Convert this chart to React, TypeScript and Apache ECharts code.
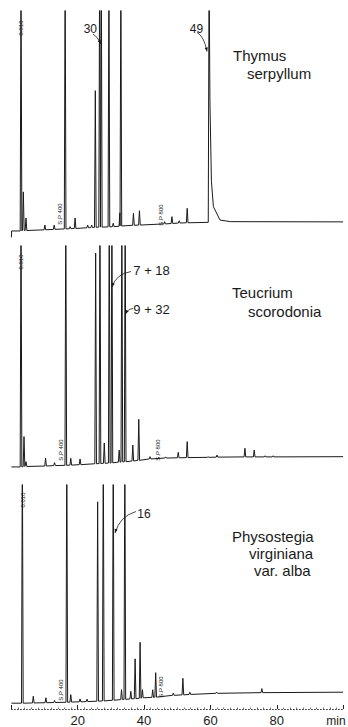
import React, { useEffect, useRef } from "react";
import * as echarts from "echarts";

// Chromatogram peaks: [retention time (min), peak top, foot level, optional right-foot level]
// Signal scale: 0..100 = full panel height; values > 100 are off-scale (clipped).
const thymusPeaks: number[][] = [
  [2.9, 120, 3.1], [3.6, 20.3, 3.4], [4.4, 8.8, 3.3], [10.1, 5.7, 3.6], [12.9, 5.7, 3.8],
  [16.2, 120, 4.0], [17.7, 5.0, 4.1], [19.2, 8.8, 4.2], [23.0, 5.7, 4.5], [24.2, 5.7, 4.6],
  [25.3, 64.9, 4.7], [26.6, 120, 4.8], [27.1, 120, 4.8], [29.4, 120, 4.9], [30.7, 6.5, 5.0],
  [32.7, 11.1, 5.2], [33.0, 120, 5.3], [36.8, 10.9, 5.6], [38.6, 12.0, 5.7], [46.2, 7.2, 6.2],
  [48.4, 9.4, 6.4], [50.6, 7.6, 6.6], [53.0, 13.1, 6.7], [59.6, 120, 6.9, 60],
];
const thymusBaseline: number[][] = [
  [0, 0.3], [0.05, 3.1], [60.3, 25], [60.9, 13.8], [62.9, 7.9], [66, 7.2], [100, 7.1],
];

const teucriumPeaks: number[][] = [
  [2.9, 120, 3.1], [3.8, 16.4, 3.3], [4.4, 5.4, 3.3], [10.3, 6.9, 3.5], [13.0, 5.0, 3.7],
  [16.4, 120, 3.8], [17.9, 6.9, 3.9], [20.7, 6.6, 4.1], [25.4, 96.9, 4.5], [26.7, 120, 4.6],
  [28.0, 13.6, 4.7], [29.5, 120, 4.8], [30.3, 120, 4.9], [32.5, 10.5, 5.2], [33.3, 120, 5.3],
  [34.3, 120, 5.4], [36.6, 12.7, 5.7], [38.4, 24.0, 6.0], [41.8, 7.6, 6.6], [46.5, 7.5, 7.0],
  [50.3, 9.5, 7.1], [53.0, 14.2, 7.2], [59.3, 7.6, 7.3], [62.0, 8.3, 7.4], [70.4, 11.3, 7.5],
  [73.2, 10.5, 7.5], [76.5, 8.0, 7.5], [78.9, 8.0, 7.5],
];
const teucriumBaseline: number[][] = [[0, 3.1], [100, 7.6]];

const physostegiaPeaks: number[][] = [
  [3.3, 120, 2.6], [6.6, 5.7, 2.7], [10.4, 5.0, 2.8], [13.0, 3.8, 2.9], [16.7, 120, 3.0],
  [17.9, 6.4, 3.1], [20.7, 4.5, 3.2], [22.8, 4.4, 3.3], [26.0, 92.5, 3.5], [27.7, 120, 3.6],
  [30.7, 120, 3.9], [33.2, 8.6, 4.2], [34.2, 120, 4.3], [36.0, 7.9, 4.5], [37.3, 22.4, 4.6],
  [38.8, 29.8, 4.8], [39.5, 8.6, 5.0], [42.6, 8.6, 5.2], [43.5, 16.2, 5.3], [48.8, 7.1, 6.1],
  [51.7, 13.7, 6.3], [53.8, 7.5, 6.5], [61.9, 7.5, 7.0], [75.5, 9.1, 7.3],
];
const physostegiaBaseline: number[][] = [[0, 2.6], [100, 7.5]];

const timeTicks = [20, 40, 60, 80];
const axisUnit = "min";

const HW = 0.25;
const INK = "#1a1a1a";
const FONT = "'Liberation Sans', Arial, sans-serif";

function buildTrace(peaks: number[][], anchors: number[][]) {
  const pts: number[][] = anchors.map((a) => [a[0], a[1]]);
  for (const p of peaks) {
    const [t, top, foot, footR] = p;
    pts.push([t - HW, foot], [t, top], [t + HW, footR ?? foot]);
  }
  pts.sort((a, b) => a[0] - b[0]);
  return pts;
}

function arrow(x1: number, y1: number, cx: number, cy: number, x2: number, y2: number): any[] {
  let dx = x2 - cx, dy = y2 - cy;
  const L = Math.hypot(dx, dy) || 1;
  dx /= L; dy /= L;
  const bx = x2 - dx * 4, by = y2 - dy * 4;
  const nx = -dy, ny = dx;
  return [
    { type: "bezierCurve", shape: { x1, y1, x2, y2, cpx1: cx, cpy1: cy }, style: { stroke: INK, lineWidth: 0.8, fill: null }, z: 20 },
    { type: "polygon", shape: { points: [[x2, y2], [bx + nx * 1.6, by + ny * 1.6], [bx - nx * 1.6, by - ny * 1.6]] }, style: { fill: INK }, z: 20 },
  ];
}

function txt(text: string, x: number, y: number, size: number, align = "left", rot = 0, valign = "middle"): any {
  return {
    type: "text", x, y, rotation: rot, z: 20,
    style: {
      text, fontSize: size, fontFamily: FONT, fill: INK,
      align, textAlign: align, verticalAlign: valign, textVerticalAlign: valign,
    },
  };
}

const grids = [
  { left: 11.4, right: 4.9, top: 11, height: 227 },
  { left: 11.4, right: 4.9, top: 246, height: 228 },
  { left: 11.4, right: 4.9, top: 485, height: 227.5 },
];

export default function App() {
  const ref = useRef<HTMLDivElement>(null);
  useEffect(() => {
    if (!ref.current) return;
    const chart = echarts.init(ref.current, null, { renderer: "svg" });
    const traces = [
      buildTrace(thymusPeaks, thymusBaseline),
      buildTrace(teucriumPeaks, teucriumBaseline),
      buildTrace(physostegiaPeaks, physostegiaBaseline),
    ];
    const xAxes: any[] = [0, 1, 2].map((i) => ({
      type: "value", gridIndex: i, min: 0, max: 100, interval: 20,
      show: i === 2,
      axisLine: { show: true, onZero: false, lineStyle: { color: "#444", width: 1, type: [1, 2] } },
      axisTick: { show: true, inside: true, length: 4, lineStyle: { color: "#222" } },
      minorTick: { show: true, splitNumber: 10, length: 1.5, lineStyle: { color: "#777" } },
      splitLine: { show: false },
      axisLabel: {
        show: true, fontSize: 13, fontFamily: FONT, color: INK, margin: 5,
        formatter: (v: number) => (timeTicks.includes(v) ? String(v) : ""),
      },
    }));
    const yAxes: any[] = [0, 1, 2].map((i) => ({
      type: "value", gridIndex: i, min: 0, max: 100, show: false, splitLine: { show: false },
    }));
    const series: any[] = traces.map((d, i) => ({
      type: "line", xAxisIndex: i, yAxisIndex: i, data: d, showSymbol: false, symbol: "none",
      clip: true, silent: true, lineStyle: { color: INK, width: 1 },
    }));

    const graphic: any[] = [
      txt("Thymus", 233, 55.4, 15),
      txt("serpyllum", 247, 73.2, 15),
      txt("Teucrium", 232, 292.7, 15),
      txt("scorodonia", 248, 311.2, 15),
      txt("Physostegia", 232, 536.7, 15),
      txt("virginiana", 249, 553.7, 15),
      txt("var. alba", 254, 570.2, 15),
      txt("30", 90.3, 29, 12, "center"),
      txt("49", 196.5, 28.5, 12, "center"),
      txt("7 + 18", 133.3, 270.8, 13),
      txt("9 + 32", 133.3, 309, 13),
      txt("16", 144, 513.7, 12, "center"),
      ...arrow(93, 34, 97, 36, 101, 44),
      ...arrow(197, 32.5, 204, 36, 207, 51.5),
      ...arrow(131, 271.5, 116, 274, 112, 287),
      ...arrow(133, 308.5, 128, 309, 125.5, 314),
      ...arrow(136, 511.5, 120, 516, 115, 533),
      txt("0.010", 21, 28, 6, "center", Math.PI / 2),
      txt("0.010", 21, 262, 6, "center", Math.PI / 2),
      txt("0.010", 23, 500, 6, "center", Math.PI / 2),
      txt("S.P 400", 60, 214, 6, "center", Math.PI / 2),
      txt("S.P 800", 160.5, 215, 6, "center", Math.PI / 2),
      txt("S.P 400", 60.5, 450, 6, "center", Math.PI / 2),
      txt("S.P 800", 157.5, 450, 6, "center", Math.PI / 2),
      txt("S.P 400", 61, 690, 6, "center", Math.PI / 2),
      txt("S.P 800", 161, 687, 6, "center", Math.PI / 2),
      txt(axisUnit, 336, 727, 12, "center", 0, "bottom"),
    ];

    chart.setOption({
      animation: false,
      backgroundColor: "#ffffff",
      grid: grids,
      xAxis: xAxes,
      yAxis: yAxes,
      series,
      graphic,
    });
    return () => chart.dispose();
  }, []);
  return <div ref={ref} style={{ position: "absolute", left: 0, top: 0, width: 348, height: 727 }} />;
}
